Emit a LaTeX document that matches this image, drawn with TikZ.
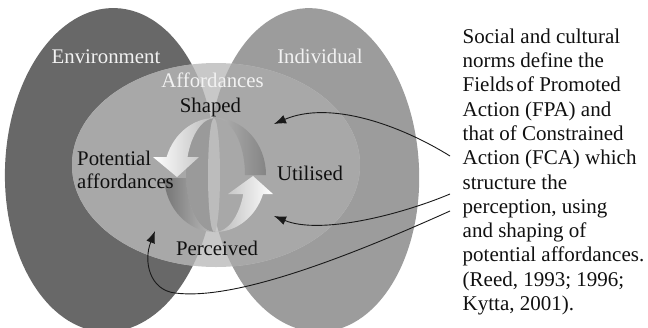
\documentclass[tikz,border=0pt]{standalone}
\usepackage{fontspec}
\setmainfont{Liberation Serif}
\usetikzlibrary{arrows.meta}
\definecolor{envc}{HTML}{686868}
\definecolor{indc}{HTML}{9C9C9C}
\definecolor{affc}{HTML}{C8C8C8}
\definecolor{affin}{HTML}{A8A8A8}
\definecolor{ringin}{HTML}{9A9A9A}
\definecolor{lensc}{HTML}{BCBCBC}
\definecolor{txtc}{HTML}{101010}
\definecolor{lighttxt}{HTML}{F2F2F2}
\begin{document}
\begin{tikzpicture}[x=1pt,y=-1pt,
  lbl/.style={inner sep=0pt, font=\fontsize{20.8}{23}\selectfont, text=txtc},
  whitelbl/.style={lbl, text=lighttxt},
  note/.style={inner sep=0pt, align=left, font=\fontsize{21}{24.3}\selectfont, text=txtc},
  conn/.style={draw=black!90, line width=0.9pt, -{Latex[length=12pt,width=9pt]}},
  envshape/.style={rotate around={-2:(110,170)}},
  indshape/.style={rotate around={3:(314,170)}}]
\useasboundingbox (0,0) rectangle (648,327);
% big ellipses
\fill[envc, envshape] (110,170) ellipse [x radius=105, y radius=162];
\fill[indc, indshape] (314,170) ellipse [x radius=105, y radius=162];
% affordances ellipse
\begin{scope}
  \clip (216,165) ellipse [x radius=144, y radius=102];
  \fill[affc] (0,0) rectangle (648,327);
  \fill[affin, envshape] (110,170) ellipse [x radius=105, y radius=162];
  \fill[affin, indshape] (314,170) ellipse [x radius=105, y radius=162];
\end{scope}
% ring interior
\fill[ringin] (215,118) arc[start angle=270, end angle=90, x radius=29, y radius=57] -- cycle;
\fill[lensc] (214,175) ellipse [x radius=6, y radius=57];
% back crescents
\shade[left color=black!30, right color=black!48] (215,118)
  arc[start angle=270, end angle=360, x radius=51, y radius=57] -- (245,175)
  arc[start angle=0, end angle=-90, x radius=30, y radius=57] -- cycle;
\shade[left color=black!54, right color=black!26] (164.1,178)
  arc[start angle=177, end angle=90, x radius=51, y radius=57]
  arc[start angle=90, end angle=177, x radius=29, y radius=57] -- cycle;
% cycle arrows
\shade[left color=white, right color=black!28] (215,118)
  arc[start angle=270, end angle=198.4, x radius=51, y radius=57]
  -- (153,157) -- (177,177) -- (199,157) -- (187.5,157)
  arc[start angle=198.4, end angle=270, x radius=29, y radius=57] -- cycle;
\shade[left color=black!28, right color=white] (215,232)
  arc[start angle=90, end angle=19.5, x radius=51, y radius=57]
  -- (273,194) -- (253,176) -- (228,194) -- (243.3,194)
  arc[start angle=19.5, end angle=90, x radius=30, y radius=57] -- cycle;
% labels
\node[whitelbl, anchor=base] (env) at (106,63) {Environment};
\node[whitelbl, anchor=base] (ind) at (320,63) {Individual};
\node[whitelbl, anchor=base] (aff) at (212.5,87) {Affordances};
\node[lbl, anchor=base] (shaped) at (210.5,112) {Shaped};
\node[lbl, anchor=base west] (pot1) at (77,165) {Potential};
\node[lbl, anchor=base west] (pot2) at (77,188.5) {affordances};
\node[lbl, anchor=base] (util) at (310,180) {Utilised};
\node[lbl, anchor=base] (perc) at (217,255) {Perceived};
% note text
\node[note, anchor=north west] (norms) at (462.5,28.5) {Social and cultural\\norms define the\\Fields\hspace{0.12em}of Promoted\\Action (FPA) and\\that of Constrained\\Action (FCA) which\\structure the\\perception, using\\and shaping of\\potential affordances.\\(Reed, 1993; 1996;\\Kytta, 2001).};
% connector ends
\coordinate (s1) at (450,156);
\coordinate (s2) at (450,194);
\coordinate (s3) at (450,211);
\coordinate (t1) at (274,124);
\coordinate (t2) at (274,216);
\coordinate (t3) at (155,231);
\draw[conn] (s1) .. controls (400,125) and (330,100) .. (t1);
\draw[conn] (s2) .. controls (400,215) and (320,235) .. (t2);
\draw[conn] (s3) .. controls (330,265) and (230,300) .. (175,293) .. controls (150,290) and (143,262) .. (t3);
\end{tikzpicture}
\end{document}
